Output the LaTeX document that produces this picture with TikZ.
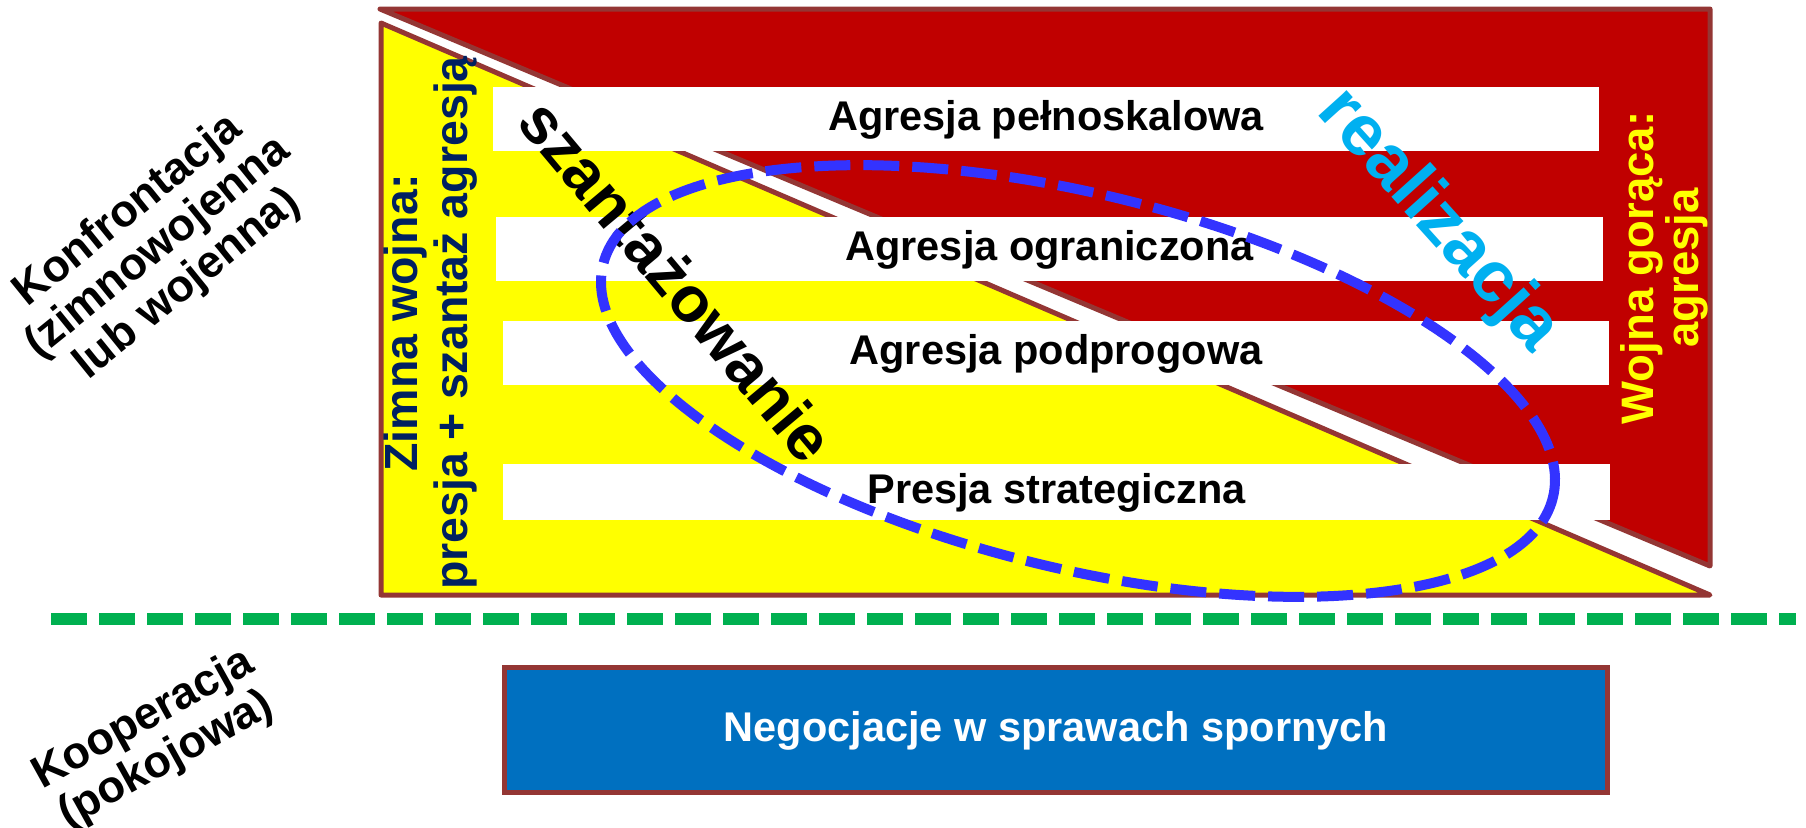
\documentclass[tikz,border=0pt]{standalone}
\usepackage{fontspec}
\setmainfont{Liberation Sans}
\usetikzlibrary{shapes.geometric}
\definecolor{warred}{HTML}{C00000}
\definecolor{coldyellow}{HTML}{FFFF00}
\definecolor{edgebrown}{HTML}{943634}
\definecolor{peaceblue}{HTML}{0070C0}
\definecolor{darknavy}{HTML}{002060}
\definecolor{skycyan}{HTML}{00B0F0}
\definecolor{ellblue}{HTML}{3333FF}
\definecolor{linegreen}{HTML}{00B050}
\tikzset{
  triangle/.style={draw=edgebrown, line width=5pt, line join=round},
  band/.style={fill=white, inner sep=0pt, text height=32pt, text depth=9pt,
    font=\fontsize{41.5}{46}\selectfont\bfseries},
  bigword/.style={inner sep=0pt, font=\fontsize{64}{70}\selectfont\bfseries},
  sidelabel/.style={inner sep=0pt, align=center, font=\fontsize{45}{47}\selectfont\bfseries},
}
\begin{document}
\begin{tikzpicture}[x=1pt,y=-1pt]
\useasboundingbox (0,0) rectangle (1806,827);
% triangles
\draw[triangle, fill=warred] (380,9) -- (1710,9) -- (1710,566) -- cycle;
\draw[triangle, fill=coldyellow] (381,23) -- (381,595) -- (1710,595) -- cycle;
% bands
\node[band, minimum width=1106pt, minimum height=64pt] (b1) at (1046,119) {Agresja pełnoskalowa};
\node[band, minimum width=1107pt, minimum height=64pt] (b2) at (1049.5,249) {Agresja ograniczona};
\node[band, minimum width=1106pt, minimum height=64pt] (b3) at (1056,353) {Agresja podprogowa};
\node[band, minimum width=1107pt, minimum height=56pt] (b4) at (1056.5,492) {Presja strategiczna};
% vertical labels
\node[inner sep=0pt, align=center, rotate=90, text=darknavy,
  font=\fontsize{46.5}{50}\selectfont\bfseries] (zimna) at (431,323)
  {Zimna wojna:\\presja + szantaż agresją};
\node[inner sep=0pt, align=center, rotate=90, text=coldyellow,
  font=\fontsize{45.5}{45}\selectfont\bfseries] (goraca) at (1664,268)
  {Wojna gorąca:\\agresja};
% diagonal words
\node[bigword, rotate=-50] (szant) at (677,280) {szantażowanie};
\node[bigword, rotate=-48, text=skycyan, font=\fontsize{72}{78}\selectfont\bfseries] (real) at (1438,221) {realizacja};
% dashed ellipse
\node[ellipse, draw=ellblue, line width=10pt, dash pattern=on 36pt off 13pt,
  minimum width=978pt, minimum height=374pt, inner sep=0pt, rotate=-13.8] (ell) at (1078,381) {};
% separating line
\coordinate (gl) at (51,619);
\coordinate (gr) at (1796,619);
\draw[linegreen, line width=12pt, dash pattern=on 36pt off 12pt] (gl) -- (gr);
% cooperation box
\node[fill=peaceblue, draw=edgebrown, line width=5pt, minimum width=1103pt, minimum height=125pt,
  inner sep=0pt, text=white, text height=32pt, text depth=9pt,
  font=\fontsize{41.5}{46}\selectfont\bfseries] (nego) at (1056,730)
  {Negocjacje w sprawach spornych};
% left labels
\node[sidelabel, rotate=39] (konf) at (158,248) {Konfrontacja\\(zimnowojenna\\lub wojenna)};
\node[sidelabel, rotate=29] (koop) at (155,740) {Kooperacja\\(pokojowa)};
\end{tikzpicture}
\end{document}
